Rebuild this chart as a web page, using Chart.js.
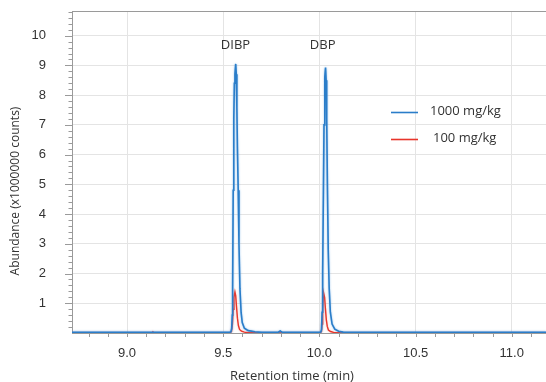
<!DOCTYPE html>
<html lang="en">
<head>
    <meta charset="UTF-8">
    <title>Chromatogram</title>
    <script src="https://cdn.jsdelivr.net/npm/chart.js"></script>
    <style>
        html, body { margin: 0; padding: 0; background: #fff; }
        #wrap { width: 546px; height: 382px; }
    </style>
</head>
<body>
<div id="wrap"><canvas id="tic-chart" width="546" height="382"></canvas></div>
<script>
    // retention time (min) and abundance (x1000000 counts)
    const blueTime = [8.714, 9.530, 9.540, 9.544, 9.547, 9.549, 9.552, 9.555, 9.558, 9.561, 9.565, 9.568, 9.571, 9.574, 9.578, 9.582, 9.587, 9.593, 9.599, 9.610, 9.630, 9.665, 9.700,
        9.785, 9.792, 9.797, 9.802, 9.810,
        10.000, 10.008, 10.011, 10.014, 10.017, 10.021, 10.024, 10.027, 10.029, 10.032, 10.035, 10.038, 10.042, 10.046, 10.051, 10.057, 10.066, 10.080, 10.100, 10.124, 10.160, 11.178];
    const blueAbund = [0.02, 0.02, 0.04, 0.15, 0.6, 1.5, 4.8, 7.2, 8.4, 8.7, 9.05, 8.7, 7.6, 6.2, 4.8, 3.0, 1.5, 0.7, 0.35, 0.16, 0.08, 0.04, 0.02,
        0.02, 0.05, 0.07, 0.04, 0.02,
        0.02, 0.04, 0.12, 0.7, 2.0, 4.8, 7.0, 8.3, 8.6, 8.93, 8.5, 7.2, 4.8, 2.8, 1.5, 0.7, 0.3, 0.13, 0.06, 0.03, 0.02, 0.02];

    const redTime = [8.714, 9.130, 9.135, 9.140, 9.535, 9.543, 9.548, 9.552, 9.556, 9.561, 9.565, 9.569, 9.574, 9.579, 9.585, 9.595, 9.610, 9.630,
        10.005, 10.011, 10.014, 10.017, 10.020, 10.023, 10.027, 10.031, 10.036, 10.041, 10.047, 10.058, 10.074, 10.100, 11.178];
    const redAbund = [0.01, 0.01, 0.03, 0.01, 0.01, 0.05, 0.3, 0.8, 1.2, 1.38, 1.25, 0.9, 0.5, 0.25, 0.12, 0.06, 0.03, 0.01,
        0.01, 0.05, 0.3, 0.8, 1.2, 1.32, 1.2, 0.85, 0.45, 0.22, 0.1, 0.05, 0.02, 0.01, 0.01];

    const seriesLabels = ['1000 mg/kg', '100 mg/kg'];
    const peakNames = ['DIBP', 'DBP'];
    const peakTimes = [9.564, 10.017];

    const toPoints = (t, a) => t.map((x, i) => ({x: x, y: a[i]}));

    const blue = '#2a7dc9';
    const red = '#e8352b';
    const textCol = '#333';
    const axisCol = '#9a9a9a';
    const gridCol = '#e4e4e4';

    // soft halo round the traces, like the original export
    const halo = {
        id: 'halo',
        beforeDatasetDraw(chart, args) {
            const c = chart.ctx;
            c.save();
            c.shadowColor = args.index === 0 ? 'rgba(90,160,225,0.7)' : 'rgba(240,120,110,0.5)';
            c.shadowBlur = 2;
        },
        afterDatasetDraw(chart) {
            chart.ctx.restore();
        }
    };

    // extra drawing: top border, minor ticks, peak names, legend, axis titles
    const extras = {
        id: 'extras',
        afterDraw(chart) {
            const c = chart.ctx;
            const a = chart.chartArea;
            const xs = chart.scales.x, ys = chart.scales.y;
            c.save();
            c.strokeStyle = axisCol;
            c.lineWidth = 1;
            c.beginPath();
            c.moveTo(a.left, a.top + 0.5);
            c.lineTo(a.right, a.top + 0.5);
            // x minor ticks every 0.1
            for (let k = 88; k <= 111; k++) {
                const px = Math.round(xs.getPixelForValue(k / 10)) + 0.5;
                c.moveTo(px, a.bottom);
                c.lineTo(px, a.bottom + 4);
            }
            // y ticks every 0.2, longer on whole numbers
            for (let k = 1; k <= 54; k++) {
                const py = Math.round(ys.getPixelForValue(k / 5)) + 0.5;
                const len = (k % 5 === 0) ? 7 : 3.5;
                c.moveTo(a.left - len, py);
                c.lineTo(a.left, py);
            }
            c.stroke();

            c.fillStyle = textCol;
            c.font = '13px "Open Sans"';
            c.textAlign = 'center';
            c.textBaseline = 'middle';
            peakNames.forEach((n, i) => {
                c.fillText(n, xs.getPixelForValue(peakTimes[i]), ys.getPixelForValue(9.66));
            });

            // legend
            const cols = [blue, red];
            const rows = [112.5, 139.5];
            const txtX = [430, 433];
            c.textAlign = 'left';
            seriesLabels.forEach((s, i) => {
                c.strokeStyle = cols[i];
                c.lineWidth = 1.6;
                c.beginPath();
                c.moveTo(391, rows[i]);
                c.lineTo(418, rows[i]);
                c.stroke();
                c.fillStyle = textCol;
                c.fillText(s, txtX[i], rows[i] - 1.5);
            });

            // axis titles
            c.font = '13px "Open Sans"';
            c.textAlign = 'center';
            c.fillText('Retention time (min)', 292, 376);
            c.translate(16, 191);
            c.rotate(-Math.PI / 2);
            c.font = '12px "Open Sans"';
            c.fillText('Abundance (x1000000 counts)', 0, 0);
            c.restore();
        }
    };

    const ctx = document.getElementById('tic-chart').getContext('2d');
    new Chart(ctx, {
        type: 'line',
        data: {
            datasets: [
                {
                    label: seriesLabels[0],
                    data: toPoints(blueTime, blueAbund),
                    borderColor: blue,
                    borderWidth: 1.6,
                    pointRadius: 0,
                    tension: 0,
                    fill: false
                },
                {
                    label: seriesLabels[1],
                    data: toPoints(redTime, redAbund),
                    borderColor: red,
                    borderWidth: 1.4,
                    pointRadius: 0,
                    tension: 0,
                    fill: false
                }
            ]
        },
        options: {
            responsive: false,
            animation: false,
            layout: { padding: { top: 11, right: 0, bottom: 0, left: 0 } },
            plugins: {
                legend: { display: false },
                tooltip: { enabled: false }
            },
            scales: {
                x: {
                    type: 'linear',
                    min: 8.714,
                    max: 11.178,
                    afterFit: s => {
                        s.height = 49;
                        s.paddingLeft = 0;
                        s.paddingRight = 0;
                    },
                    border: { color: axisCol },
                    grid: {
                        drawTicks: false,
                        color: gridCol
                    },
                    ticks: {
                        stepSize: 0.5,
                        includeBounds: false,
                        autoSkip: false,
                        maxRotation: 0,
                        padding: 13,
                        color: textCol,
                        font: { family: '"Liberation Sans", Arial', size: 13 },
                        callback: v => v.toFixed(1)
                    }
                },
                y: {
                    min: 0,
                    max: 10.83,
                    afterFit: s => {
                        s.width = 72;
                        s.paddingTop = 0;
                        s.paddingBottom = 0;
                    },
                    border: { color: axisCol },
                    grid: {
                        drawTicks: false,
                        color: c => c.tick && c.tick.value === 0 ? 'rgba(0,0,0,0)' : gridCol
                    },
                    ticks: {
                        stepSize: 1,
                        includeBounds: false,
                        padding: 26,
                        color: textCol,
                        font: { family: '"Liberation Sans", Arial', size: 13 },
                        callback: v => v === 0 ? '' : v
                    }
                }
            }
        },
        plugins: [halo, extras]
    });
</script>
</body>
</html>
